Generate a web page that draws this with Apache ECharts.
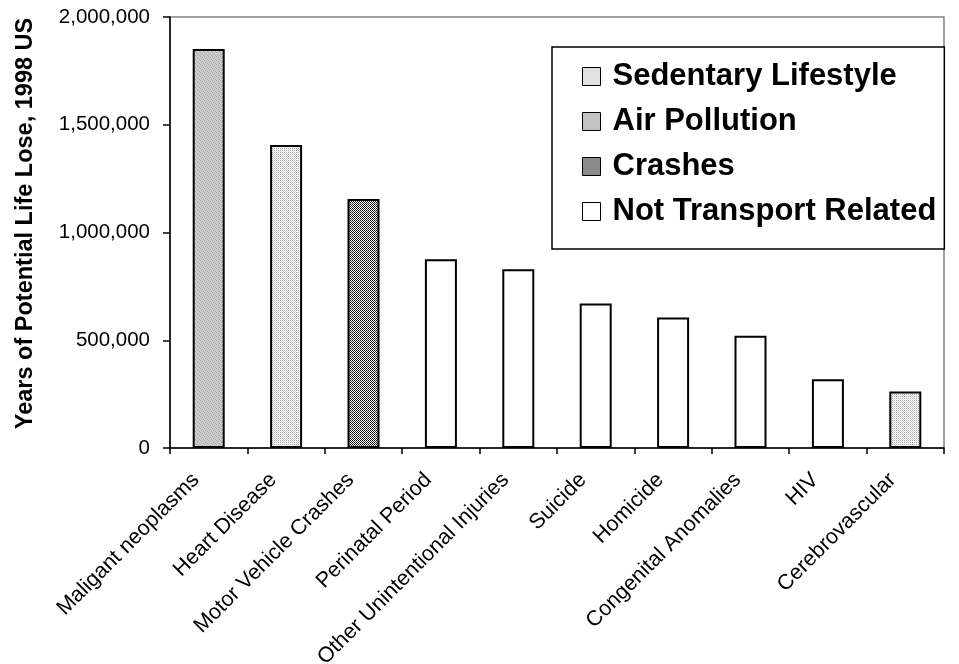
<!DOCTYPE html>
<html>
<head>
<meta charset="utf-8">
<script src="https://cdn.jsdelivr.net/npm/echarts@6/dist/echarts.min.js"></script>
<style>
	html, body { margin: 0; padding: 0; background: #fff; }
	#main { width: 959px; height: 664px; }
</style>
</head>
<body>
<div id="main"></div>
<script>
	/*图表数据*/
	var categories = ['Maligant neoplasms', 'Heart Disease', 'Motor Vehicle Crashes', 'Perinatal Period',
		'Other Unintentional Injuries', 'Suicide', 'Homicide', 'Congenital Anomalies', 'HIV', 'Cerebrovascular'];
	var values = [1851000, 1406000, 1155000, 876000, 829000, 671000, 605000, 521000, 319000, 262000];
	// 每个类别所属的分组
	var groups = ['Air Pollution', 'Sedentary Lifestyle', 'Crashes', 'Not Transport Related',
		'Not Transport Related', 'Not Transport Related', 'Not Transport Related', 'Not Transport Related',
		'Not Transport Related', 'Sedentary Lifestyle'];
	var legendNames = ['Sedentary Lifestyle', 'Air Pollution', 'Crashes', 'Not Transport Related'];
	var yTicks = [0, 500000, 1000000, 1500000, 2000000];

	/*生成填充图案*/
	function makePattern(size, cells) {
		var c = document.createElement('canvas');
		c.width = size;
		c.height = size;
		var ctx = c.getContext('2d');
		for(var y = 0; y < size; y++) {
			for(var x = 0; x < size; x++) {
				ctx.fillStyle = cells[y][x];
				ctx.fillRect(x, y, 1, 1);
			}
		}
		return { image: c, repeat: 'repeat' };
	}
	var fills = {
		'Sedentary Lifestyle': makePattern(2, [['#a8a8a8', '#ffffff'], ['#ffffff', '#e0e0e0']]),
		'Air Pollution': makePattern(4, [
			['#a8a8a8', '#cccccc', '#cccccc', '#cccccc'],
			['#cccccc', '#cccccc', '#a8a8a8', '#cccccc'],
			['#cccccc', '#a8a8a8', '#cccccc', '#cccccc'],
			['#cccccc', '#cccccc', '#cccccc', '#a8a8a8']
		]),
		'Crashes': makePattern(2, [['#000000', '#ffffff'], ['#ffffff', '#333333']]),
		'Not Transport Related': '#ffffff'
	};

	var font = "'Liberation Sans', Arial, sans-serif";

	/*按分组拆分为堆叠系列*/
	var series = [];
	for(var k = 0; k < legendNames.length; k++) {
		var name = legendNames[k];
		var data = [];
		for(var i = 0; i < values.length; i++) {
			data.push(groups[i] === name ? values[i] : '-');
		}
		series.push({
			name: name,
			type: 'bar',
			stack: 'total',
			barWidth: 32,
			data: data,
			itemStyle: {
				color: fills[name],
				borderColor: '#000',
				borderWidth: 2
			}
		});
	}

	var myChart = echarts.init(document.getElementById('main'));
	var option = {
		animation: false,
		backgroundColor: '#fff',
		textStyle: { fontFamily: font },
		grid: {
			left: 170,
			right: 15,
			top: 17,
			bottom: 216,
			show: true,
			borderColor: '#808080',
			borderWidth: 1.5,
			containLabel: false,
			outerBoundsMode: 'none'
		},
		legend: {
			orient: 'vertical',
			left: 552,
			top: 47,
			padding: [14, 8, 22, 30],
			itemGap: 14,
			itemWidth: 18,
			itemHeight: 18,
			icon: 'rect',
			borderColor: '#000',
			borderWidth: 1.5,
			backgroundColor: '#fff',
			data: legendNames,
			itemStyle: { borderColor: '#000', borderWidth: 1 },
			textStyle: {
				fontFamily: font,
				fontSize: 31,
				fontWeight: 'bold',
				color: '#000',
				padding: [0, 0, 0, 7]
			}
		},
		xAxis: {
			type: 'category',
			data: categories,
			axisLine: { lineStyle: { color: '#000', width: 1.5 } },
			axisTick: { show: true, interval: 0, length: 6, lineStyle: { color: '#000', width: 1.5 } },
			axisLabel: {
				interval: 0,
				rotate: 45,
				margin: 16,
				fontSize: 21.5,
				color: '#000',
				fontFamily: font,
				padding: [0, 18, 0, 0]
			}
		},
		yAxis: {
			type: 'value',
			min: yTicks[0],
			max: yTicks[yTicks.length - 1],
			interval: yTicks[1] - yTicks[0],
			name: 'Years of Potential Life Lose, 1998 US',
			nameLocation: 'middle',
			nameRotate: 90,
			nameGap: 132,
			nameTextStyle: {
				fontFamily: font,
				fontSize: 23.5,
				fontWeight: 'bold',
				color: '#000',
				padding: [0, 0, 0, 18]
			},
			splitLine: { show: false },
			axisLine: { show: true, lineStyle: { color: '#000', width: 1.5 } },
			axisTick: { show: true, length: 7, lineStyle: { color: '#000', width: 1.5 } },
			axisLabel: {
				margin: 20,
				fontSize: 20.5,
				color: '#000',
				fontFamily: font,
				formatter: function(v) {
					return v.toLocaleString('en-US');
				}
			}
		},
		series: series
	};
	myChart.setOption(option);
</script>
</body>
</html>
